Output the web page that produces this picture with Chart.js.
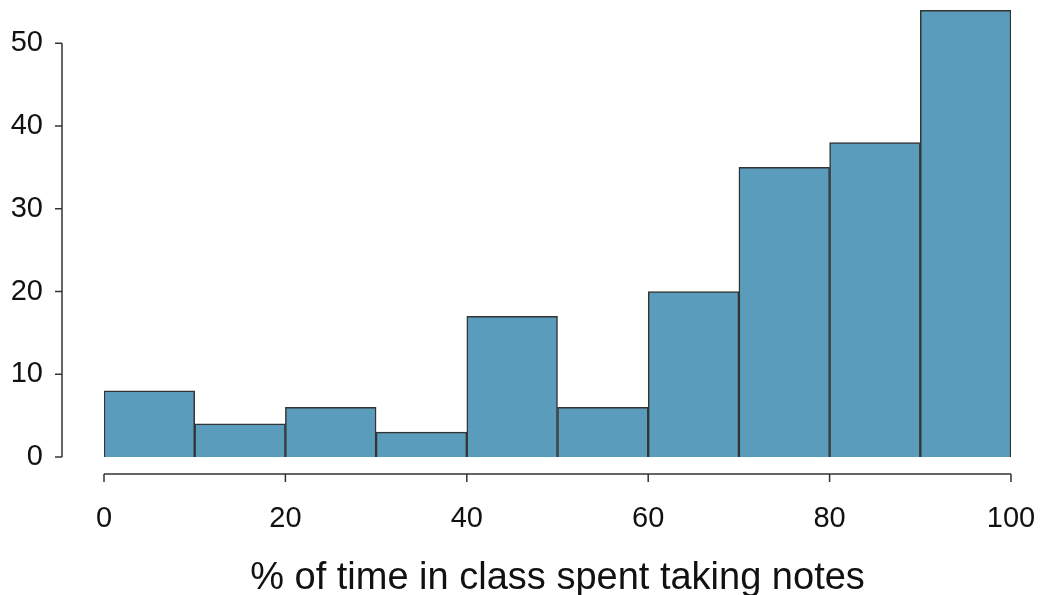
<!DOCTYPE html>
<html>
<head>
<meta charset="utf-8">
<script src="https://cdn.jsdelivr.net/npm/chart.js@4.4.0/dist/chart.umd.min.js"></script>
<style>
  body { margin: 0; background: #fff; }
  #wrap { width: 1041px; height: 595px; }
</style>
</head>
<body>
<div id="wrap"><canvas id="hist"></canvas></div>
<script>
// histogram bins (centres) and counts
const binCentres = [5, 15, 25, 35, 45, 55, 65, 75, 85, 95];
const counts = [8, 4, 6, 3, 17, 6, 20, 35, 38, 54];
const xTicks = [0, 20, 40, 60, 80, 100];
const yTicks = [0, 10, 20, 30, 40, 50];

// R-style detached axis lines
const spines = {
    id: 'spines',
    afterDraw(chart) {
        const ctx = chart.ctx, x = chart.scales.x, y = chart.scales.y;
        ctx.save();
        ctx.strokeStyle = '#333';
        ctx.lineWidth = 1.5;
        ctx.beginPath();
        ctx.moveTo(62, y.getPixelForValue(0));
        ctx.lineTo(62, y.getPixelForValue(50));
        yTicks.forEach(v => {
            ctx.moveTo(55, y.getPixelForValue(v));
            ctx.lineTo(62, y.getPixelForValue(v));
        });
        ctx.moveTo(x.getPixelForValue(0), 474);
        ctx.lineTo(x.getPixelForValue(100), 474);
        xTicks.forEach(v => {
            ctx.moveTo(x.getPixelForValue(v), 474);
            ctx.lineTo(x.getPixelForValue(v), 482);
        });
        ctx.stroke();
        ctx.restore();
    }
};

new Chart(document.getElementById('hist').getContext('2d'), {
    type: 'bar',
    data: {
        datasets: [{
            data: binCentres.map((c, i) => ({ x: c, y: counts[i] })),
            backgroundColor: '#5a9cbb',
            borderColor: '#333',
            borderWidth: 1.5,
            barPercentage: 1,
            categoryPercentage: 1
        }]
    },
    options: {
        responsive: true,
        maintainAspectRatio: false,
        animation: false,
        layout: { padding: { top: 2, right: 30, left: 0, bottom: 0 } },
        plugins: { legend: { display: false }, tooltip: { enabled: false } },
        scales: {
            x: {
                type: 'linear', min: 0, max: 100, offset: false,
                grid: { display: false }, border: { display: false },
                afterBuildTicks: s => { s.ticks = xTicks.map(v => ({ value: v })); },
                afterFit: s => { s.height = 138; s.paddingLeft = 0; s.paddingRight = 0; },
                ticks: { color: '#111', padding: 37, maxRotation: 0,
                    font: { family: 'Liberation Sans', size: 29 } },
                title: { display: true, text: '% of time in class spent taking notes',
                    color: '#111', padding: { top: 0, bottom: -6 },
                    font: { family: 'Liberation Sans', size: 38 } }
            },
            y: {
                min: 0, max: 55,
                grid: { display: false }, border: { display: false },
                afterBuildTicks: s => { s.ticks = yTicks.map(v => ({ value: v })); },
                afterFit: s => { s.width = 104; s.paddingTop = 0; s.paddingBottom = 0; },
                ticks: { color: '#111', padding: 53,
                    font: { family: 'Liberation Sans', size: 29 } }
            }
        }
    },
    plugins: [spines]
});
</script>
</body>
</html>
